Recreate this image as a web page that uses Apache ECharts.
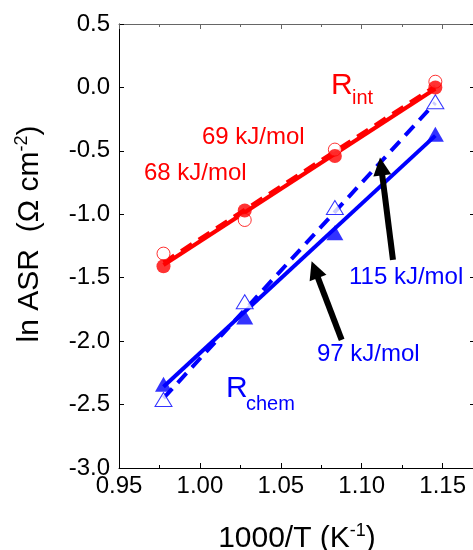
<!DOCTYPE html>
<html><head><meta charset="utf-8">
<script src="https://cdn.jsdelivr.net/npm/echarts@6/dist/echarts.min.js"></script>
<style>html,body{margin:0;padding:0;background:#fff}#c{width:473px;height:550px}</style>
</head><body><div id="c"></div>
<script>
// 1000/T values (K^-1)
const invT = [0.9775, 1.0277, 1.0834, 1.1455];
// ln ASR values
const rintFilled  = [-1.41, -0.97, -0.54, 0.0];
const rintOpen    = [-1.31, -1.045, -0.49, 0.045];
const rchemFilled = [-2.34, -1.81, -1.145, -0.37];
const rchemOpen   = [-2.46, -1.69, -0.946, -0.113];
// fit line endpoints
const fitX = [0.9775, 1.1455];
const rintFitFilled  = [-1.40, -0.01];
const rintFitOpen    = [-1.38, 0.01];
const rchemFitFilled = [-2.36, -0.38];
const rchemFitOpen   = [-2.45, -0.12];
// annotation arrows [tail, head] in data coords
const arrowTo115 = [[1.1193, -1.36], [1.1120, -0.623]];
const arrowTo97  = [[1.0876, -1.99], [1.0710, -1.436]];
// axes
const xMin = 0.95, xMax = 1.17, xStep = 0.05;
const yMin = -3.0, yMax = 0.5, yStep = 0.5;

const FONT = '"Liberation Sans", Arial, sans-serif';
const RED = '#ff0000', BLUE = '#0000ff';
const zip = (xs, ys) => xs.map((x, i) => [x, ys[i]]);

const chart = echarts.init(document.getElementById('c'), null, {renderer: 'canvas'});

const baseAxis = {
  axisTick: {inside: true, length: 5, lineStyle: {color: '#000', width: 1}},
  splitLine: {show: false},
  axisLine: {onZero: false, lineStyle: {color: '#000', width: 1}}
};

chart.setOption({
  animation: false,
  backgroundColor: '#fff',
  grid: {left: 119, top: 24, right: -2, bottom: 82, containLabel: false, outerBoundsMode: 'none'},
  xAxis: [
    Object.assign({}, baseAxis, {
      type: 'value', position: 'bottom', min: xMin, max: xMax, interval: xStep,
      minorTick: {show: true, splitNumber: 2, length: 3, lineStyle: {color: '#000'}},
      axisLabel: {fontFamily: FONT, fontSize: 24, color: '#000', margin: 6, showMaxLabel: false,
        formatter: v => v.toFixed(2)},
      name: '1000/T (K{sup|-1})', nameLocation: 'middle', nameGap: 54,
      nameTextStyle: {fontFamily: FONT, fontSize: 30, color: '#000', lineHeight: 34,
        rich: {sup: {fontFamily: FONT, fontSize: 18, color: '#000', verticalAlign: 'top', lineHeight: 34}}}
    }),
    Object.assign({}, baseAxis, {
      type: 'value', position: 'top', min: xMin, max: xMax, interval: xStep,
      axisLine: {onZero: false, lineStyle: {color: '#666'}},
      axisTick: {inside: true, length: 5, lineStyle: {color: '#666'}},
      minorTick: {show: true, splitNumber: 2, length: 3, lineStyle: {color: '#666'}},
      axisLabel: {show: false}
    })
  ],
  yAxis: [
    Object.assign({}, baseAxis, {
      type: 'value', position: 'left', min: yMin, max: yMax, interval: yStep,
      axisLabel: {fontFamily: FONT, fontSize: 24, color: '#000', margin: 9,
        formatter: v => v.toFixed(1)},
      name: 'ln ASR  (\u03A9 cm{sup|-2})', nameLocation: 'middle', nameGap: 72, nameRotate: 90,
      nameTextStyle: {fontFamily: FONT, fontSize: 30, color: '#000', lineHeight: 34, padding: [0, 0, 0, 24],
        rich: {sup: {fontFamily: FONT, fontSize: 18, color: '#000', verticalAlign: 'top', lineHeight: 34}}}
    }),
    Object.assign({}, baseAxis, {
      type: 'value', position: 'right', min: yMin, max: yMax, interval: yStep,
      axisLabel: {show: false}
    })
  ],
  series: [
    {type: 'line', data: zip(fitX, rintFitOpen), symbol: 'none', z: 2,
      lineStyle: {color: RED, width: 4, type: [13, 8]}},
    {type: 'line', data: zip(fitX, rintFitFilled), symbol: 'none', z: 2,
      lineStyle: {color: RED, width: 4}},
    {type: 'line', data: zip(fitX, rchemFitOpen), symbol: 'none', z: 2,
      lineStyle: {color: BLUE, width: 4, type: [13, 8]}},
    {type: 'line', data: zip(fitX, rchemFitFilled), symbol: 'none', z: 2,
      lineStyle: {color: BLUE, width: 4},
      markLine: {silent: true, symbol: ['none', 'triangle'], symbolSize: [18, 18],
        label: {show: false}, lineStyle: {color: '#000', width: 6, type: 'solid'},
        emphasis: {disabled: true},
        data: [
          [{coord: arrowTo115[0]}, {coord: arrowTo115[1]}],
          [{coord: arrowTo97[0]}, {coord: arrowTo97[1]}]
        ]}},
    {type: 'scatter', data: zip(invT, rintOpen), symbol: 'circle', symbolSize: 13, z: 3,
      itemStyle: {color: '#fff', borderColor: RED, borderWidth: 1}},
    {type: 'scatter', data: zip(invT, rintFilled), symbol: 'circle', symbolSize: 14, z: 4,
      itemStyle: {color: RED}},
    {type: 'scatter', data: zip(invT, rchemOpen), symbol: 'triangle', symbolSize: [17, 14], z: 3,
      itemStyle: {color: '#fff', borderColor: BLUE, borderWidth: 1}},
    {type: 'scatter', data: zip(invT, rchemFilled), symbol: 'triangle', symbolSize: [17, 15], z: 4,
      itemStyle: {color: BLUE}}
  ],
  graphic: [
    {type: 'text', x: 331, y: 86, style: {text: 'R', font: '30px ' + FONT, fill: RED, verticalAlign: 'middle'}},
    {type: 'text', x: 352, y: 98, style: {text: 'int', font: '20px ' + FONT, fill: RED, verticalAlign: 'middle'}},
    {type: 'text', x: 202, y: 137, style: {text: '69 kJ/mol', font: '24px ' + FONT, fill: RED, verticalAlign: 'middle'}},
    {type: 'text', x: 144, y: 173, style: {text: '68 kJ/mol', font: '24px ' + FONT, fill: RED, verticalAlign: 'middle'}},
    {type: 'text', x: 349, y: 277, style: {text: '115 kJ/mol', font: '24px ' + FONT, fill: BLUE, verticalAlign: 'middle'}},
    {type: 'text', x: 317, y: 354, style: {text: '97 kJ/mol', font: '24px ' + FONT, fill: BLUE, verticalAlign: 'middle'}},
    {type: 'text', x: 226, y: 389, style: {text: 'R', font: '30px ' + FONT, fill: BLUE, verticalAlign: 'middle'}},
    {type: 'text', x: 246, y: 404, style: {text: 'chem', font: '20px ' + FONT, fill: BLUE, verticalAlign: 'middle'}}
  ]
});
</script></body></html>
